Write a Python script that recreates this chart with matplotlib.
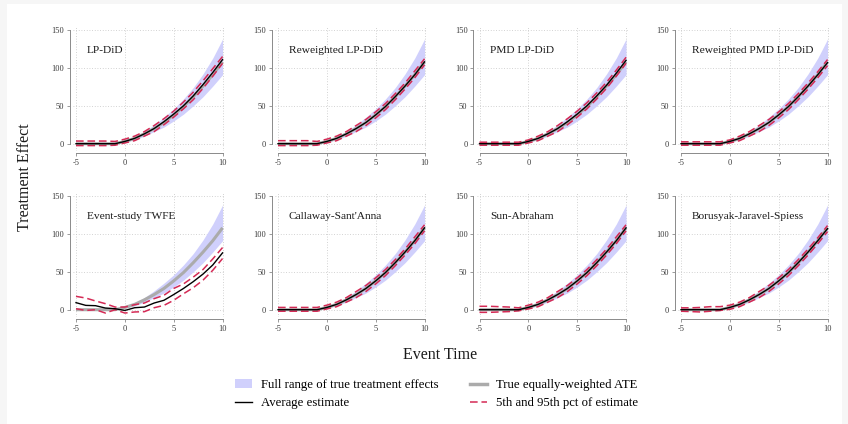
import matplotlib
matplotlib.use("Agg")
import matplotlib.pyplot as plt
from matplotlib.patches import Patch, Rectangle
from matplotlib.lines import Line2D

plt.rcParams['font.family'] = ['Liberation Serif', 'DejaVu Serif']
plt.rcParams['axes.unicode_minus'] = False

# ---------------- data ----------------
event_time = [-5, -4, -3, -2, -1, 0, 1, 2, 3, 4, 5, 6, 7, 8, 9, 10]
x_ticks = [-5, 0, 5, 10]
y_ticks = [0, 50, 100, 150]

ate = [0, 0, 0, 0, 0, 3, 7, 13, 20, 28, 38, 49, 62, 76, 91, 108]
band_hi = [0, 0, 0, 0, 0, 4, 9, 16, 25, 35, 46, 59, 74, 92, 113, 138]
band_lo = [0, 0, 0, 0, 0, 2, 5, 10, 16, 22, 30, 39, 50, 62, 76, 91]

panel_names = ["LP-DiD", "Reweighted LP-DiD", "PMD LP-DiD", "Reweighted PMD LP-DiD",
               "Event-study TWFE", "Callaway-Sant'Anna", "Sun-Abraham",
               "Borusyak-Jaravel-Spiess"]

lpdid_avg = [0, 0, 0, 0, 0, 3, 7, 13, 20, 29, 39, 50, 63, 78, 94, 111]
lpdid_hi = [3.5, 3.5, 3.5, 3.5, 3, 6, 10, 16, 24, 33, 43, 55, 68, 83, 99, 115]
lpdid_lo = [-2.5, -2.5, -2.5, -2.5, -2, 1, 4, 10, 16, 25, 35, 46, 58, 73, 89, 106]

rw_lpdid_avg = [0, 0, 0, 0, 0, 3, 7, 13, 20, 28, 38, 49, 62, 76, 91, 108]
rw_lpdid_hi = [4, 4, 4, 4, 3, 6, 10, 16, 24, 32, 42, 53, 66, 80, 96, 112]
rw_lpdid_lo = [-2.5, -2.5, -2.5, -2.5, -2, 1, 4, 10, 16, 24, 34, 45, 58, 72, 87, 104]

pmd_avg = [0, 0, 0, 0, 0, 3, 7, 13, 20, 29, 39, 50, 63, 77, 93, 110]
pmd_hi = [2, 2, 2, 2, 2, 5, 10, 16, 24, 33, 43, 54, 67, 81, 97, 114]
pmd_lo = [-2, -2, -2, -2, -2, 1, 4, 10, 16, 25, 35, 46, 59, 73, 89, 106]

rw_pmd_avg = [0, 0, 0, 0, 0, 3, 7, 13, 20, 28, 38, 49, 62, 76, 91, 107]
rw_pmd_hi = [2.5, 2.5, 2.5, 2.5, 2.5, 5, 10, 16, 24, 32, 42, 53, 66, 80, 95, 111]
rw_pmd_lo = [-2, -2, -2, -2, -2, 1, 4, 10, 16, 24, 34, 45, 58, 72, 87, 103]

twfe_avg = [9.3, 5.7, 5.3, 2.2, 1.3, -1, 2.6, 3.5, 8.8, 12.4, 20, 28, 37, 47, 59, 75]
twfe_hi = [17.6, 15.4, 11.5, 8, 3.5, 3.5, 6.6, 8.8, 14.6, 19, 28, 34, 43, 53, 67, 82]
twfe_lo = [1.3, -1, 0, -4.4, 0, -4.4, -3, -2.6, 2.6, 5.7, 12.4, 21, 29, 39, 52, 67.5]

cs_avg = [0, 0, 0, 0, 0, 3, 7, 13, 20, 28, 38, 49, 62, 76, 91, 108]
cs_hi = [3, 3, 3, 3, 3, 6, 10, 16, 24, 32, 42, 53, 66, 80, 96, 112]
cs_lo = [-2, -2, -2, -2, -2, 1, 4, 10, 16, 24, 34, 45, 58, 72, 87, 104]

sa_avg = [0, 0, 0, 0, 0, 3, 7, 13, 20, 28, 38, 49, 62, 76, 91, 108]
sa_hi = [4.5, 4.5, 4, 3.5, 2.5, 6, 10, 16, 24, 32, 42, 53, 66, 80, 96, 112]
sa_lo = [-3.5, -3.5, -3, -2.5, -1.5, 1, 4, 10, 16, 24, 34, 45, 58, 72, 87, 104]

bjs_avg = [0, 0, 0, 0, 0, 3, 7, 13, 20, 28, 38, 49, 62, 76, 91, 107]
bjs_hi = [2.5, 2.5, 3, 4, 4, 6, 10, 16, 24, 32, 42, 53, 66, 80, 95, 111]
bjs_lo = [-2, -2.5, -3, -2, -1, 0.5, 4, 10, 16, 24, 34, 45, 58, 72, 87, 103]

panel_avg = [lpdid_avg, rw_lpdid_avg, pmd_avg, rw_pmd_avg, twfe_avg, cs_avg, sa_avg, bjs_avg]
panel_hi = [lpdid_hi, rw_lpdid_hi, pmd_hi, rw_pmd_hi, twfe_hi, cs_hi, sa_hi, bjs_hi]
panel_lo = [lpdid_lo, rw_lpdid_lo, pmd_lo, rw_pmd_lo, twfe_lo, cs_lo, sa_lo, bjs_lo]

legend_labels = ["Full range of true treatment effects", "Average estimate",
                 "True equally-weighted ATE", "5th and 95th pct of estimate"]

# ---------------- style ----------------
W, H = 848, 424
BAND = '#d0d0fc'
ATE_C = '#ababab'
RED = '#d42a55'
SPINE = '#8a8a8a'
GRID = '#c4c4c4'

fig = plt.figure(figsize=(W / 100, H / 100), dpi=100)
fig.patch.set_facecolor('#f6f6f6')
fig.patches.append(Rectangle((7 / W, 0), (842 - 7) / W, (H - 4) / H,
                             transform=fig.transFigure, facecolor='white',
                             edgecolor='none', zorder=-10))

col_x0 = [76, 278, 479.5, 681]      # pixel of x=-5
row_y150 = [30, 196]                 # pixel (from top) of y=150
px_per_x = 9.77
px_per_y = 0.758
xlim = (-5.3, 10.3)
ylim = (-10, 155)

for i in range(8):
    r, c = divmod(i, 4)
    left = col_x0[c] - (-5 - xlim[0]) * px_per_x
    width = (xlim[1] - xlim[0]) * px_per_x
    top = row_y150[r] - (ylim[1] - 150) * px_per_y
    height = (ylim[1] - ylim[0]) * px_per_y
    ax = fig.add_axes([left / W, 1 - (top + height) / H, width / W, height / H])
    ax.set_xlim(*xlim)
    ax.set_ylim(*ylim)
    ax.patch.set_alpha(0)

    ax.fill_between(event_time, band_lo, band_hi, color=BAND, lw=0, zorder=1)
    ax.plot(event_time, ate, color=ATE_C, lw=2.2, zorder=2, solid_capstyle='butt')
    ax.plot(event_time, panel_hi[i], color=RED, lw=1.1, dashes=(5, 2.5), zorder=3)
    ax.plot(event_time, panel_lo[i], color=RED, lw=1.1, dashes=(5, 2.5), zorder=3)
    ax.plot(event_time, panel_avg[i], color='black', lw=1.0, zorder=4)

    ax.set_xticks(x_ticks)
    ax.set_yticks(y_ticks)
    ax.grid(True, color=GRID, lw=0.6, linestyle=(0, (1, 2.2)))
    ax.set_axisbelow(True)
    for s in ['top', 'right']:
        ax.spines[s].set_visible(False)
    ax.spines['left'].set_position(('outward', 2.5))
    ax.spines['bottom'].set_position(('outward', 1.3))
    ax.spines['left'].set_bounds(0, 150)
    ax.spines['bottom'].set_bounds(-5, 10)
    for s in ['left', 'bottom']:
        ax.spines[s].set_color(SPINE)
        ax.spines[s].set_linewidth(0.7)
    ax.tick_params(direction='out', length=2.5, width=0.6, color=SPINE,
                   labelsize=6, labelcolor='#3a3a3a', pad=1.5)
    ax.text(-3.9, 123, panel_names[i], fontsize=8.2, ha='left', va='center',
            color='#1a1a1a', zorder=6)

fig.text(25 / W, 1 - 177 / H, "Treatment Effect", rotation=90, ha='center',
         va='center', fontsize=11.5, color='#1a1a1a')
fig.text(440 / W, 1 - 355 / H, "Event Time", ha='center', va='center',
         fontsize=11.5, color='#1a1a1a')

handles = [Patch(facecolor=BAND, edgecolor='none'),
           Line2D([], [], color='black', lw=1.0),
           Line2D([], [], color=ATE_C, lw=2.5),
           Line2D([], [], color=RED, lw=1.1, dashes=(5, 2.5))]
fig.legend(handles, legend_labels, ncol=2, loc='upper left',
           bbox_to_anchor=(235 / W, 1 - 379 / H), frameon=False,
           fontsize=9.2, handlelength=1.33, handletextpad=0.68,
           columnspacing=2.5, labelspacing=0.5, borderaxespad=0,
           borderpad=0)

fig.savefig("out.png", dpi=100, facecolor=fig.get_facecolor())
